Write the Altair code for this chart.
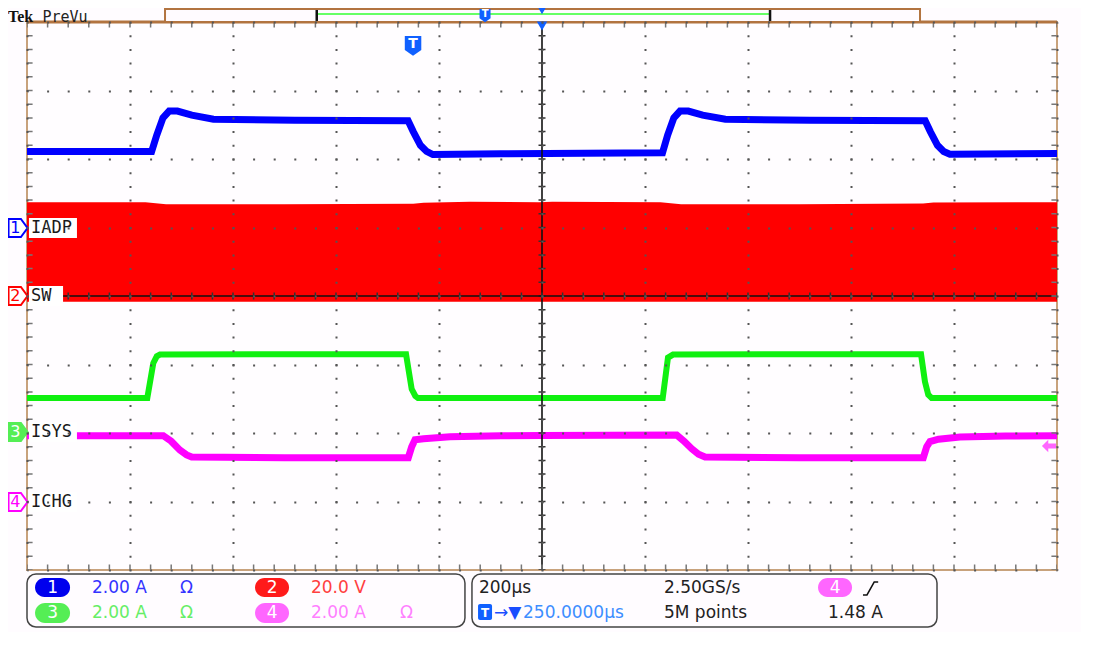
import altair as alt
import pandas as pd

# ---------------- waveform data: x = time in 200 us divisions, y = screen divisions ----------------
CH1_T = [0, 1.21, 1.26, 1.32, 1.38, 1.46, 1.60, 1.81, 2.60, 3.70, 3.75, 3.82, 3.88, 3.94, 4.60,
         6.17, 6.22, 6.28, 6.34, 6.42, 6.56, 6.78, 7.60, 8.72, 8.77, 8.84, 8.90, 8.96, 10]
CH1_V = [2.11, 2.11, 2.35, 2.60, 2.70, 2.70, 2.64, 2.58, 2.565, 2.56, 2.40, 2.20, 2.11, 2.065, 2.075,
         2.09, 2.35, 2.60, 2.70, 2.70, 2.64, 2.58, 2.565, 2.56, 2.40, 2.20, 2.11, 2.07, 2.08]

CH2_T = [0, 1.15, 1.35, 2.50, 3.75, 3.85, 4.30, 4.97, 5.10, 6.15, 6.35, 7.50, 8.70, 8.80, 10]
CH2_TOP = [1.37, 1.37, 1.34, 1.34, 1.345, 1.36, 1.375, 1.37, 1.375, 1.37, 1.34, 1.34, 1.35, 1.365, 1.37]
CH2_LOW = -0.085

CH3_T = [0, 1.168, 1.226, 1.26, 1.291, 2.50, 3.680, 3.735, 3.77, 3.796, 5.0,
         6.172, 6.223, 6.272, 7.50, 8.680, 8.718, 8.75, 8.783, 10]
CH3_V = [-1.49, -1.49, -0.98, -0.88, -0.855, -0.85, -0.85, -1.36, -1.46, -1.49, -1.49,
         -1.49, -0.90, -0.855, -0.85, -0.85, -1.25, -1.44, -1.49, -1.49]

CH4_T = [0, 1.323, 1.40, 1.485, 1.55, 1.599, 2.50, 3.702, 3.735, 3.767, 3.85, 4.107, 4.60, 5.0,
         6.308, 6.38, 6.453, 6.52, 6.583, 7.50, 8.702, 8.735, 8.767, 8.85, 9.058, 9.50, 10]
CH4_V = [-2.04, -2.04, -2.12, -2.25, -2.32, -2.35, -2.36, -2.36, -2.20, -2.10, -2.085, -2.055, -2.04, -2.035,
         -2.03, -2.12, -2.23, -2.31, -2.35, -2.36, -2.36, -2.20, -2.125, -2.09, -2.06, -2.045, -2.04]

# channel names / reference levels (screen divisions)
CH_NUM = ["1", "2", "3", "4"]
CH_NAME = ["IADP", "SW", "ISYS", "ICHG"]
CH_REF = [0.993, 0.0, -1.985, -3.007]
CH_COLOR = ["#0000ff", "#ff0000", "#10f010", "#ff00ff"]

# readouts
SCALE_TXT = ["2.00 A", "20.0 V", "2.00 A", "2.00 A"]
TIMEBASE = "200µs"
SAMPLE_RATE = "2.50GS/s"
TRIG_POS = "250.0000µs"
REC_LEN = "5M points"
TRIG_LEVEL = "1.48 A"

# ---------------- scales / axes (graticule) ----------------
W, H = 1030, 548
xs = alt.Scale(domain=[0, 10], nice=False, zero=False)
ys = alt.Scale(domain=[-4, 4], nice=False, zero=False)
GRID = "#555555"
xaxis = alt.Axis(values=list(range(11)), grid=True, labels=False, ticks=False, domain=False,
                 title=None, gridColor=GRID, gridWidth=2, gridDash=[2, 11.7], gridDashOffset=1,
                 gridOpacity=1, zindex=1)
yaxis = alt.Axis(values=list(range(-4, 5)), grid=True, labels=False, ticks=False, domain=False,
                 title=None, gridColor=GRID, gridWidth=2, gridDash=[2, 18.6], gridDashOffset=1,
                 gridOpacity=1, zindex=1)


def X(f="x"):
    return alt.X(f"{f}:Q", scale=xs, axis=xaxis)


def Y(f="y"):
    return alt.Y(f"{f}:Q", scale=ys, axis=yaxis)


def df(**cols):
    return pd.DataFrame(cols)


layers = []

# ---------------- traces ----------------
red = alt.Chart(df(x=CH2_T, top=CH2_TOP, low=[CH2_LOW] * len(CH2_T))).mark_area(
    color="#ff0000", opacity=1).encode(x=X(), y=Y("top"), y2=alt.Y2("low"))
blue = alt.Chart(df(x=CH1_T, y=CH1_V)).mark_line(color="#0000ff", strokeWidth=7).encode(x=X(), y=Y())
green = alt.Chart(df(x=CH3_T, y=CH3_V)).mark_line(color="#10f010", strokeWidth=6).encode(x=X(), y=Y())
mag = alt.Chart(df(x=CH4_T, y=CH4_V)).mark_line(color="#ff00ff", strokeWidth=7).encode(x=X(), y=Y())
layers += [red, blue, green, mag]

# ---------------- crosshair with tick marks ----------------
layers.append(alt.Chart(df(x=[5])).mark_rule(color="#111111", strokeWidth=1.6).encode(x=X()))
layers.append(alt.Chart(df(x=[5])).mark_rule(color="#333333", strokeWidth=7, strokeDash=[1.5, 12.2],
                                             strokeDashOffset=0.75).encode(x=X()))
layers.append(alt.Chart(df(y=[0])).mark_rule(color="#111111", strokeWidth=1.6).encode(y=Y()))
layers.append(alt.Chart(df(y=[0])).mark_rule(color="#333333", strokeWidth=7, strokeDash=[1.5, 19.1],
                                             strokeDashOffset=0.75).encode(y=Y()))
# edge ticks
layers.append(alt.Chart(df(x=[0.03, 9.97])).mark_rule(color="#777777", strokeWidth=5, strokeDash=[1.5, 12.2],
                                                      strokeDashOffset=0.75).encode(x=X()))
layers.append(alt.Chart(df(y=[3.955, -3.955])).mark_rule(color="#777777", strokeWidth=5, strokeDash=[1.5, 19.1],
                                                         strokeDashOffset=0.75).encode(y=Y()))
# top border (darker)
layers.append(alt.Chart(df(y=[4.0])).mark_rule(color="#b27440", strokeWidth=3).encode(y=Y()))

# ---------------- header ----------------
layers.append(alt.Chart(df(x=[1.34], x2=[8.67], y=[4.19], y2=[4.0])).mark_rect(
    fill="#fffbff", stroke="#b27440", strokeWidth=2).encode(x=X(), x2="x2", y=Y(), y2="y2"))
layers.append(alt.Chart(df(x=[2.813], x2=[7.214], y=[4.117])).mark_rule(
    color="#66ff66", strokeWidth=2).encode(x=X(), x2="x2", y=Y()))
layers.append(alt.Chart(df(x=[2.813, 7.214], y=[4.175, 4.175], y2=[4.015, 4.015])).mark_rule(
    color="#111111", strokeWidth=2.5).encode(x=X(), y=Y(), y2="y2"))
layers.append(alt.Chart(df(x=[-0.184], y=[4.066], t=["Tek"])).mark_text(
    font="Liberation Serif", fontWeight="bold", fontSize=16, align="left", baseline="middle",
    color="#111111").encode(x=X(), y=Y(), text="t:N"))
layers.append(alt.Chart(df(x=[0.15], y=[4.066], t=["PreVu"])).mark_text(
    font="DejaVu Sans Mono", fontSize=15, align="left", baseline="middle",
    color="#222222").encode(x=X(), y=Y(), text="t:N"))

SHIELD = "M-1,-1.1 L1,-1.1 L1,0.6 L0,1.3 L-1,0.6 Z"
# trigger badges
layers.append(alt.Chart(df(x=[4.447, 3.748], y=[4.102, 3.664], s=[121, 272])).mark_point(
    shape=SHIELD, filled=True, color="#1060ff", opacity=1).encode(
    x=X(), y=Y(), size=alt.Size("s:Q", scale=None)))
layers.append(alt.Chart(df(x=[4.447, 3.748], y=[4.117, 3.68], t=["T", "T"], fs=[10, 14])).mark_text(
    font="DejaVu Sans", fontWeight="bold", color="white", align="center", baseline="middle").encode(
    x=X(), y=Y(), text="t:N", size=alt.Size("fs:Q", scale=None)))
# trigger position triangles
layers.append(alt.Chart(df(x=[5.0, 5.0], y=[4.161, 3.942], s=[60, 110])).mark_point(
    shape="triangle-down", filled=True, color="#1060ff", opacity=1).encode(
    x=X(), y=Y(), size=alt.Size("s:Q", scale=None)))
# trigger level arrow (right edge)
layers.append(alt.Chart(df(x=[9.922], y=[-2.19])).mark_point(
    shape="M-1,0 L-0.1,-0.9 L-0.1,-0.35 L1,-0.35 L1,0.35 L-0.1,0.35 L-0.1,0.9 Z",
    filled=True, color="#ff66ff", opacity=1, size=196).encode(x=X(), y=Y()))

# ---------------- channel markers and labels ----------------
lab = df(x=[0.019] * 4, x2=[0.485, 0.350, 0.485, 0.485],
         y=[r + 0.146 for r in CH_REF], y2=[r - 0.146 for r in CH_REF])
layers.append(alt.Chart(lab).mark_rect(color="white").encode(x=X(), x2="x2", y=Y(), y2="y2"))
layers.append(alt.Chart(df(x=[0.039] * 4, y=CH_REF, t=CH_NAME)).mark_text(
    font="DejaVu Sans Mono", fontSize=17, align="left", baseline="middle", color="#1a1a1a").encode(
    x=X(), y=Y(), text="t:N"))
mk = df(x=[-0.087] * 4, y=CH_REF, fill=["white", "white", "#55ee55", "white"], stroke=CH_COLOR)
mk.loc[2, "stroke"] = "#55ee55"
layers.append(alt.Chart(mk).mark_point(
    shape="M-1,-0.95 L0.3,-0.95 L1,0 L0.3,0.95 L-1,0.95 Z", filled=True, size=361, strokeWidth=2,
    opacity=1).encode(x=X(), y=Y(), fill=alt.Fill("fill:N", scale=None),
                      stroke=alt.Stroke("stroke:N", scale=None)))
layers.append(alt.Chart(df(x=[-0.112] * 4, y=CH_REF, t=CH_NUM,
                           c=["#0000ff", "#ff0000", "white", "#ff00ff"])).mark_text(
    font="DejaVu Sans", fontSize=16, align="center", baseline="middle").encode(
    x=X(), y=Y(), text="t:N", color=alt.Color("c:N", scale=None)))

# ---------------- bottom readout panels ----------------
R1, R2 = -4.270, -4.628
layers.append(alt.Chart(df(x=[0.0, 4.32], x2=[4.252, 8.835], y=[-4.058, -4.058], y2=[-4.832, -4.832])).mark_rect(
    fillOpacity=0, stroke="#444444", strokeWidth=1.5, cornerRadius=9).encode(x=X(), x2="x2", y=Y(), y2="y2"))
ov = df(x=[0.078, 2.214, 0.078, 2.214, 7.680], x2=[0.418, 2.544, 0.418, 2.544, 8.010],
        y=[-4.117, -4.117, -4.482, -4.482, -4.117], y2=[-4.394, -4.394, -4.774, -4.774, -4.394],
        c=["#0000ee", "#ff1a1a", "#55ee55", "#ff66ff", "#ff66ff"])
layers.append(alt.Chart(ov).mark_rect(cornerRadius=10).encode(
    x=X(), x2="x2", y=Y(), y2="y2", color=alt.Color("c:N", scale=None)))
layers.append(alt.Chart(df(x=[0.248, 2.379, 0.248, 2.379, 7.845], y=[R1, R1, R2, R2, R1],
                           t=["1", "2", "3", "4", "4"])).mark_text(
    font="DejaVu Sans", fontSize=17, align="center", baseline="middle", color="white").encode(
    x=X(), y=Y(), text="t:N"))
# T box
layers.append(alt.Chart(df(x=[4.379], x2=[4.515], y=[-4.496], y2=[-4.730])).mark_rect(
    color="#1060ff", cornerRadius=2).encode(x=X(), x2="x2", y=Y(), y2="y2"))
layers.append(alt.Chart(df(x=[4.447], y=[R2], t=["T"])).mark_text(
    font="DejaVu Sans", fontWeight="bold", fontSize=12, color="white", align="center",
    baseline="middle").encode(x=X(), y=Y(), text="t:N"))
# rising edge symbol
layers.append(alt.Chart(df(x=[8.194], y=[R1])).mark_point(
    shape="M-1,0.8 L-0.5,0.8 L0.4,-0.8 L0.9,-0.8", filled=False, size=256, color="#111111",
    strokeWidth=1.5, opacity=1).encode(x=X(), y=Y()))
txt = df(
    x=[0.631, 1.485, 2.757, 4.388, 6.184,
       0.631, 1.485, 2.757, 3.621, 4.534, 4.816, 6.184, 7.777],
    y=[R1] * 5 + [R2] * 8,
    t=[SCALE_TXT[0], "Ω", SCALE_TXT[1], TIMEBASE, SAMPLE_RATE,
       SCALE_TXT[2], "Ω", SCALE_TXT[3], "Ω", "→▼", TRIG_POS, REC_LEN, TRIG_LEVEL],
    c=["#3333ff", "#3333ff", "#ff4040", "#222222", "#222222",
       "#66ee66", "#66ee66", "#ff80ff", "#ff80ff", "#1a4dff", "#3d8eff", "#222222", "#222222"],
)
layers.append(alt.Chart(txt).mark_text(
    font="DejaVu Sans", fontSize=17, align="left", baseline="middle").encode(
    x=X(), y=Y(), text="t:N", color=alt.Color("c:N", scale=None)))

chart = alt.layer(*layers).properties(
    width=W, height=H,
    autosize=alt.AutoSizeParams(type="none"),
    padding={"left": 19, "top": 14, "right": 24, "bottom": 62},
    background="#fffcff",
).configure_view(stroke="#c8a27c", strokeWidth=2, fill="#fffdff")

chart.save("out.html", embed_options={"renderer": "svg", "actions": False})
